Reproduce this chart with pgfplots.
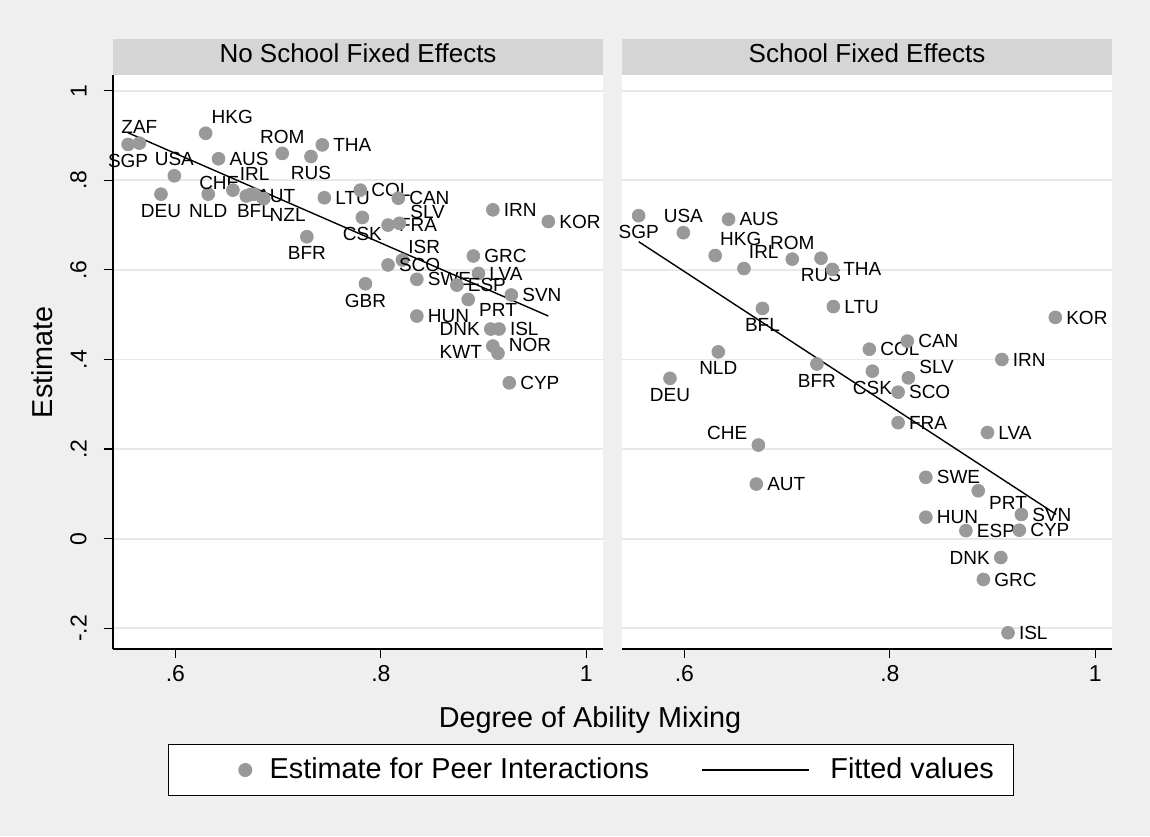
\documentclass[border=0pt]{standalone}
\usepackage{fontspec}
\setmainfont{Liberation Sans}
\usepackage{pgfplots}
\usepackage{pgfplotstable}
\pgfplotsset{compat=1.18}
\definecolor{bggray}{gray}{0.937}
\definecolor{stripgray}{gray}{0.835}
\definecolor{gridgray}{gray}{0.91}
\definecolor{markgray}{gray}{0.6}

% point-label helpers: {dx}{dy}{text}, offsets in pt
\protected\def\Lw#1#2#3{\smash{\rlap{\kern\dimexpr5.5pt+#1pt\relax\raisebox{#2pt}{\raisebox{-0.5\height}{#3}}}}}
\protected\def\Le#1#2#3{\smash{\llap{\raisebox{#2pt}{\raisebox{-0.5\height}{#3}}\kern\dimexpr5.5pt-#1pt\relax}}}
\protected\def\Ln#1#2#3{\smash{\makebox[0pt]{\raisebox{\dimexpr#2pt-5pt\relax}{\raisebox{-\height}{#3}}}}}
\protected\def\Ls#1#2#3{\smash{\makebox[0pt]{\raisebox{\dimexpr#2pt+5pt\relax}{#3}}}}
\protected\def\Lsw#1#2#3{\smash{\rlap{\kern\dimexpr5.5pt+#1pt\relax\raisebox{\dimexpr#2pt+5pt\relax}{#3}}}}
\protected\def\Lse#1#2#3{\smash{\llap{\raisebox{\dimexpr#2pt+5pt\relax}{#3}\kern\dimexpr5.5pt-#1pt\relax}}}
\protected\def\Lnw#1#2#3{\smash{\rlap{\kern\dimexpr5.5pt+#1pt\relax\raisebox{\dimexpr#2pt-5pt\relax}{\raisebox{-\height}{#3}}}}}

\pgfplotstableread[col sep=comma]{
x,y,lab
0.565,0.883,\Ls{0}{0}{ZAF}
0.554,0.880,\Ln{0}{0}{SGP}
0.6295,0.905,\Lsw{-2.5}{0}{HKG}
0.704,0.860,\Ls{0}{0}{ROM}
0.743,0.879,\Lw{0}{0}{THA}
0.732,0.853,\Ln{0}{0}{RUS}
0.642,0.848,\Lw{0}{0}{AUS}
0.599,0.810,\Ls{0}{0}{USA}
0.586,0.769,\Ln{0}{0}{DEU}
0.632,0.769,\Ln{0}{0}{NLD}
0.673,0.768,\Lse{0}{-2.5}{CHE}
0.656,0.778,\Lsw{-2}{0}{IRL}
0.669,0.765,\Lw{0}{0}{AUT}
0.677,0.769,\Ln{0}{0}{BFL}
0.686,0.759,\Lnw{-2.5}{0}{NZL}
0.728,0.674,\Ln{0}{0}{BFR}
0.745,0.761,\Lw{0}{0}{LTU}
0.780,0.778,\Lw{0}{0}{COL}
0.817,0.760,\Lw{0}{0}{CAN}
0.782,0.717,\Ln{0}{0}{CSK}
0.807,0.700,\Lw{0}{0}{FRA}
0.818,0.704,\Lw{0}{5.5}{SLV}
0.821,0.622,\Lsw{-2.5}{-1.5}{ISR}
0.807,0.611,\Lw{0}{0}{SCO}
0.890,0.631,\Lw{0}{0}{GRC}
0.909,0.734,\Lw{0}{0}{IRN}
0.963,0.708,\Lw{0}{0}{KOR}
0.895,0.592,\Lw{0}{0}{LVA}
0.835,0.579,\Lw{0}{0}{SWE}
0.874,0.566,\Lw{0}{0}{ESP}
0.927,0.544,\Lw{0}{0}{SVN}
0.785,0.569,\Ln{0}{0}{GBR}
0.885,0.534,\Lnw{0}{3}{PRT}
0.835,0.497,\Lw{0}{0}{HUN}
0.907,0.468,\Le{0}{0}{DNK}
0.915,0.468,\Lw{0}{0}{ISL}
0.909,0.430,\Le{0}{-3}{KWT}
0.914,0.414,\Lw{0}{4}{NOR}
0.925,0.348,\Lw{0}{0}{CYP}
}\nofe

\pgfplotstableread[col sep=comma]{
x,y,lab
0.5555,0.721,\Ln{0}{0}{SGP}
0.599,0.683,\Ls{0}{0}{USA}
0.643,0.713,\Lw{0}{0}{AUS}
0.630,0.632,\Lsw{-3}{0}{HKG}
0.658,0.603,\Lsw{-3}{0}{IRL}
0.705,0.624,\Ls{0}{0}{ROM}
0.733,0.626,\Ln{0}{0}{RUS}
0.744,0.601,\Lw{0}{0}{THA}
0.745,0.518,\Lw{0}{0}{LTU}
0.676,0.514,\Ln{0}{0}{BFL}
0.633,0.417,\Ln{0}{0}{NLD}
0.586,0.358,\Ln{0}{0}{DEU}
0.729,0.390,\Ln{0}{0}{BFR}
0.780,0.423,\Lw{0}{0}{COL}
0.817,0.441,\Lw{0}{0}{CAN}
0.818,0.359,\Lw{0}{5.5}{SLV}
0.783,0.374,\Ln{0}{0}{CSK}
0.808,0.327,\Lw{0}{0}{SCO}
0.808,0.259,\Lw{0}{0}{FRA}
0.909,0.400,\Lw{0}{0}{IRN}
0.961,0.494,\Lw{0}{0}{KOR}
0.895,0.237,\Lw{0}{0}{LVA}
0.672,0.209,\Le{0}{6}{CHE}
0.670,0.122,\Lw{0}{0}{AUT}
0.835,0.137,\Lw{0}{0}{SWE}
0.886,0.107,\Lw{0}{-6}{PRT}
0.835,0.048,\Lw{0}{0}{HUN}
0.874,0.018,\Lw{0}{0}{ESP}
0.928,0.054,\Lw{0}{0}{SVN}
0.926,0.019,\Lw{0}{0}{CYP}
0.908,-0.042,\Le{0}{0}{DNK}
0.891,-0.091,\Lw{0}{0}{GRC}
0.915,-0.210,\Lw{0}{0}{ISL}
}\fe

\pgfplotsset{
  panel/.style={
    scale only axis, width=245pt, height=287pt,
    xmin=0.5393, xmax=1.0162, ymin=-0.2462, ymax=1.035,
    axis lines*=left,
    axis line style={-, black, line width=0.6pt},
    tick align=outside, major tick length=4.5pt,
    tick style={black, line width=0.6pt},
    xtick={0.6,0.8,1}, xticklabels={.6,.8,1},
    ytick={-0.2,0,0.2,0.4,0.6,0.8,1},
    ymajorgrids, grid style={gridgray, line width=0.9pt},
    axis background/.style={fill=white},
    clip=false,
    tick label style={font=\fontsize{11.5}{13}\selectfont},
    xticklabel style={inner sep=0pt, inner ysep=3.5pt},
    every axis title/.style={at={(axis description cs:0.5,1)}, anchor=south,
      fill=stripgray, minimum width=245pt, minimum height=18pt, inner sep=0pt,
      text depth=3.7pt, font=\fontsize{13}{15}\selectfont},
  },
  scat/.style={
    only marks, mark=*, mark size=3.2pt, color=markgray,
    mark options={draw=markgray, fill=markgray},
    point meta=explicit symbolic, nodes near coords,
    every node near coord/.append style={font=\fontsize{9.5}{11}\selectfont,
      text=black, anchor=center, inner sep=0pt},
  },
  scatlegend/.style={legend image code/.code={\path (-28.2pt,0pt) (11.9pt,0pt); \draw[##1] plot coordinates {(0pt,0pt)};}},
  fit/.style={black, line width=0.7pt, mark=none},
  fitlegend/.style={legend image code/.code={\path (-26pt,0pt) (64pt,0pt); \draw[##1] (0pt,0pt) -- (53.5pt,0pt);}},
}

\begin{document}
\begin{tikzpicture}
\useasboundingbox (0,0) rectangle (575pt,418pt);
\fill[bggray] (0,0) rectangle (575pt,418pt);
\begin{axis}[panel, at={(56.5pt,93.5pt)}, anchor=south west,
  title={No School Fixed Effects},
  yticklabels={-.2,0,.2,.4,.6,.8,1},
  yticklabel style={rotate=90, anchor=south, inner xsep=0pt, inner ysep=8.5pt},
  xlabel={Degree of Ability Mixing}, ylabel={Estimate},
  every axis x label/.style={at={(axis description cs:0.9735,-0.1359)}, anchor=base, font=\fontsize{14.4}{17}\selectfont},
  every axis y label/.style={at={(axis description cs:-0.145,0.5)}, rotate=90, anchor=center, font=\fontsize{14.4}{17}\selectfont},
  legend columns=2,
  legend style={at={(axis description cs:0.9755,-0.2108)}, anchor=center,
    draw=black, line width=0.6pt, fill=white, column sep=0pt,
    inner xsep=10pt, inner ysep=6.7pt, nodes={inner sep=0pt},
    font=\fontsize{14.4}{17}\selectfont},
]
\addplot[scat, scatlegend] table[x=x,y=y,meta=lab]{\nofe};
\addlegendentry{Estimate for Peer Interactions}
\addplot[fit, fitlegend] coordinates {(0.554,0.906) (0.963,0.497)};
\addlegendentry{Fitted values}
\end{axis}
\begin{axis}[panel, at={(311pt,93.5pt)}, anchor=south west,
  title={School Fixed Effects},
  yticklabels={}, y axis line style={draw=none}, ytick style={draw=none},
]
\addplot[scat] table[x=x,y=y,meta=lab]{\fe};
\addplot[fit] coordinates {(0.5555,0.663) (0.9617,0.0545)};
\end{axis}
\end{tikzpicture}
\end{document}
